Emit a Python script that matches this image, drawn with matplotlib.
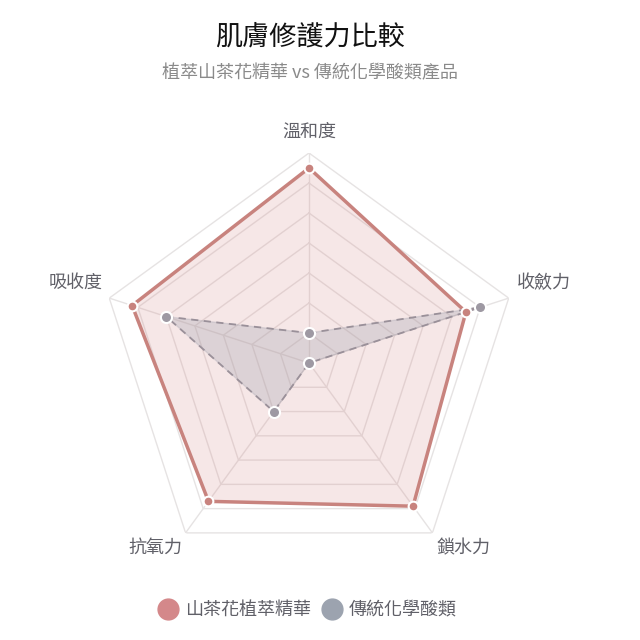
import numpy as np
import matplotlib
matplotlib.use("Agg")
import matplotlib.pyplot as plt
from matplotlib.lines import Line2D

plt.rcParams['font.family'] = ['Noto Sans CJK TC', 'DejaVu Sans']

title = "肌膚修護力比較"
subtitle = "植萃山茶花精華 vs 傳統化學酸類產品"
categories = ["溫和度", "收斂力", "鎖水力", "抗氧力", "吸收度"]
series_names = ["山茶花植萃精華", "傳統化學酸類"]
camellia = [95, 85, 89, 87, 92]
chemical = [40, 90, 30, 50, 80]
r_min, r_max, r_step = 30, 100, 10

red_line = "#c8837e"
red_fill = (0.83, 0.53, 0.53, 0.20)
red_legend = "#d4888a"
gray_line = "#9a9099"
gray_fill = (0.61, 0.62, 0.67, 0.28)
gray_point = "#9e99a3"
gray_legend = "#9ca3af"
grid_color = "#e6e3e3"

fig = plt.figure(figsize=(6.4, 6.4), dpi=100)
R = 210 / 640
cx, cy = 309 / 640, 1 - 363 / 640
ax = fig.add_axes([cx - R, cy - R, 2 * R, 2 * R], projection='polar')
ax.set_theta_zero_location('N')
ax.set_theta_direction(-1)
ax.set_ylim(r_min, r_max)
ax.grid(False)
ax.set_xticks([])
ax.set_yticks([])
ax.spines['polar'].set_visible(False)
ax.patch.set_alpha(0)

n = len(categories)
angles = np.linspace(0, 2 * np.pi, n, endpoint=False)
closed = np.append(angles, angles[0])

# grid rings
for r in range(r_min + r_step, r_max + 1, r_step):
    ax.plot(closed, [r] * (n + 1), color=grid_color, lw=1, zorder=1)
for a in angles:
    ax.plot([a, a], [r_min, r_max], color=grid_color, lw=1, zorder=1)

# camellia
cv = np.append(camellia, camellia[0])
ax.fill(closed, cv, color=red_fill, zorder=2)
ax.plot(closed, cv, color=red_line, lw=2.5, zorder=3)
ax.plot(angles, camellia, 'o', ms=7, mfc=red_line, mec='white', mew=1.5, zorder=5, clip_on=False)

# chemical
gv = np.append(chemical, chemical[0])
ax.fill(closed, gv, color=gray_fill, zorder=2)
ax.plot(closed, gv, color=gray_line, lw=1.3, ls=(0, (4, 3)), zorder=4)
ax.plot(angles, chemical, 'o', ms=8, mfc=gray_point, mec='white', mew=1.5, zorder=6, clip_on=False)

# axis labels
offsets = [(0, 15), (25, 11), (22, -11), (-22, -11), (-24, 11)]
for a, lab, off in zip(angles, categories, offsets):
    ax.annotate(lab, xy=(a, r_max), xytext=off, textcoords='offset points',
                ha='center', va='center', fontsize=13, color='#606068',
                annotation_clip=False)

fig.text(0.485, 1 - 37 / 640, title, ha='center', va='center', fontsize=19.5,
         color='#111111', fontweight='medium')
fig.text(0.485, 1 - 73 / 640, subtitle, ha='center', va='center', fontsize=13,
         color='#8a8a8a')

handles = [Line2D([], [], ls='none', marker='o', ms=15, mfc=red_legend, mec=red_legend),
           Line2D([], [], ls='none', marker='o', ms=15, mfc=gray_legend, mec=gray_legend)]
leg = fig.legend(handles, series_names, loc='center', bbox_to_anchor=(0.481, 1 - 610 / 640),
                 ncol=2, frameon=False, fontsize=13, handlelength=1.0, handletextpad=0.4,
                 columnspacing=0.7, labelcolor='#606068')

fig.savefig("out.png", dpi=100, facecolor='white')
